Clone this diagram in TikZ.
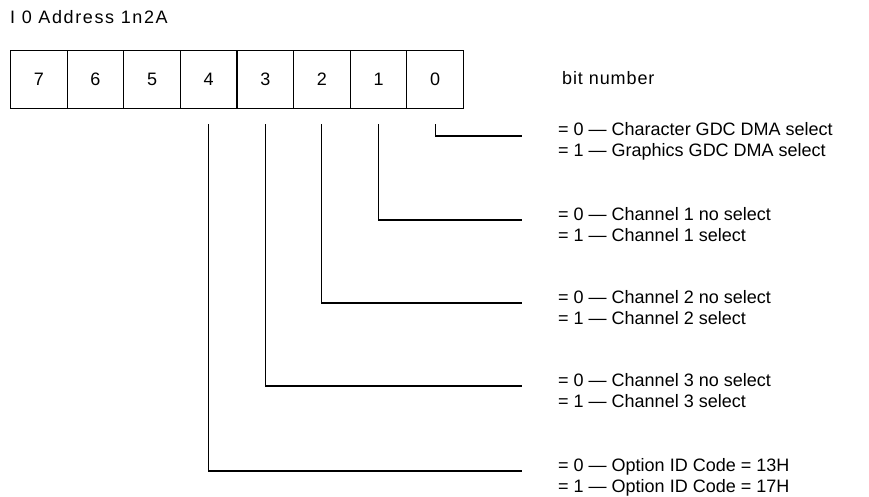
\documentclass[tikz,border=0pt]{standalone}
\usepackage{fontspec}
\setmainfont{Liberation Sans}
\newfontfamily\wideface{Liberation Sans}[LetterSpace=9]
\newfontfamily\midface{Liberation Sans}[LetterSpace=5]
\begin{document}
\begin{tikzpicture}[x=1pt,y=-1pt,
  bitbox/.style={draw,line width=1.2pt,minimum width=56.6pt,minimum height=58pt,inner sep=0pt,anchor=north west,font=\fontsize{18}{20}\selectfont},
  lbl/.style={anchor=base west,inner sep=0pt,font=\fontsize{18}{20}\selectfont},
  wire/.style={line width=1.1pt}]
\useasboundingbox (0,0) rectangle (869,497);
\node[lbl,font=\fontsize{18}{20}\wideface] (title) at (10,24) {I 0 Address 1n2A};
\foreach \i/\b in {0/7,1/6,2/5,3/4,4/3,5/2,6/1,7/0}{
  \node[bitbox] (b\b) at (10+56.6*\i,50) {\b};
}
\node[lbl,font=\fontsize{18}{20}\midface] (bn) at (562,85) {bit number};
% descriptions
\node[lbl] (t0a) at (558,136) {= 0 --- Character GDC DMA select};
\node[lbl] (t0b) at (558,157) {= 1 --- Graphics GDC DMA select};
\node[lbl] (t1a) at (558,220) {= 0 --- Channel 1 no select};
\node[lbl] (t1b) at (558,241) {= 1 --- Channel 1 select};
\node[lbl] (t2a) at (558,303) {= 0 --- Channel 2 no select};
\node[lbl] (t2b) at (558,324) {= 1 --- Channel 2 select};
\node[lbl] (t3a) at (558,386) {= 0 --- Channel 3 no select};
\node[lbl] (t3b) at (558,407) {= 1 --- Channel 3 select};
\node[lbl] (t4a) at (558,471) {= 0 --- Option ID Code = 13H};
\node[lbl] (t4b) at (558,492) {= 1 --- Option ID Code = 17H};
% line ends
\coordinate (e0) at (522,136);
\coordinate (e1) at (522,220);
\coordinate (e2) at (522,303);
\coordinate (e3) at (522,386);
\coordinate (e4) at (522,471);
\foreach \b in {0,...,4}{
  \draw[wire] ([yshift=-15pt]b\b.south) |- (e\b);
}
\end{tikzpicture}
\end{document}
